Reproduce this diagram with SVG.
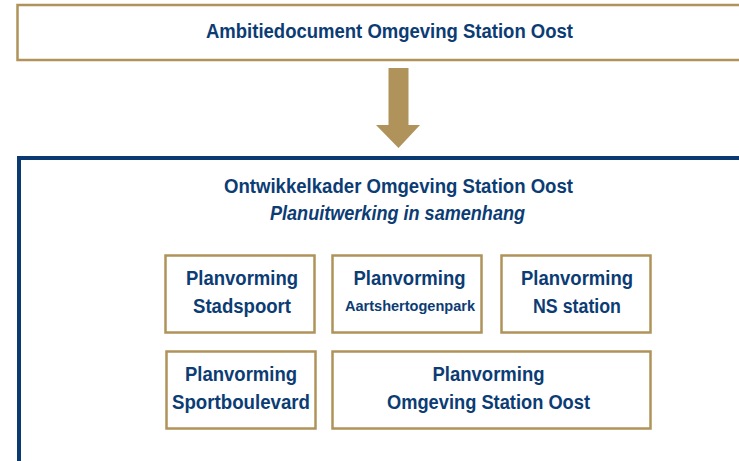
<svg xmlns="http://www.w3.org/2000/svg" width="739" height="461" viewBox="0 0 739 461">
<style>
.gold{fill:#fff;stroke:#b0935a;stroke-width:2.5}
.t{font-family:"Liberation Sans",Arial,sans-serif;font-weight:bold;fill:#0c3c74;text-anchor:middle}
.b{font-size:20px}
</style>
<rect width="739" height="461" fill="#fff"/>
<g id="ambitie">
<rect class="gold" x="17.5" y="5" width="740" height="55"/>
<text class="t" x="389.5" y="38" font-size="19.5" textLength="367" lengthAdjust="spacingAndGlyphs">Ambitiedocument Omgeving Station Oost</text>
</g>
<g id="connectors">
<polygon points="388.5,68 408.5,68 408.5,125 420,125 398.5,148 376,125 388.5,125" fill="#b0935a"/>
</g>
<g id="ontwikkelkader">
<rect x="19" y="158" width="740" height="320" fill="#fff" stroke="#0b3a73" stroke-width="4"/>
<text class="t" x="398.5" y="193" font-size="19.5" textLength="349" lengthAdjust="spacingAndGlyphs">Ontwikkelkader Omgeving Station Oost</text>
<text class="t" x="397.5" y="220" font-size="19.5" font-style="italic" textLength="255" lengthAdjust="spacingAndGlyphs">Planuitwerking in samenhang</text>
</g>
<g id="stadspoort">
<rect class="gold" x="165.5" y="255.5" width="149" height="77"/>
<text class="t b" x="242" y="285" textLength="112" lengthAdjust="spacingAndGlyphs">Planvorming</text>
<text class="t b" x="242" y="313" textLength="98" lengthAdjust="spacingAndGlyphs">Stadspoort</text>
</g>
<g id="aartshertogenpark">
<rect class="gold" x="332.5" y="255.5" width="149" height="77"/>
<text class="t b" x="409.5" y="285" textLength="112" lengthAdjust="spacingAndGlyphs">Planvorming</text>
<text class="t" x="410" y="311" font-size="14" textLength="130" lengthAdjust="spacingAndGlyphs">Aartshertogenpark</text>
</g>
<g id="nsstation">
<rect class="gold" x="501.5" y="255.5" width="149" height="77"/>
<text class="t b" x="577" y="285" textLength="112" lengthAdjust="spacingAndGlyphs">Planvorming</text>
<text class="t b" x="577" y="313" textLength="88" lengthAdjust="spacingAndGlyphs">NS station</text>
</g>
<g id="sportboulevard">
<rect class="gold" x="166.5" y="351.5" width="149" height="77"/>
<text class="t b" x="241" y="381" textLength="112" lengthAdjust="spacingAndGlyphs">Planvorming</text>
<text class="t b" x="241" y="409" textLength="138" lengthAdjust="spacingAndGlyphs">Sportboulevard</text>
</g>
<g id="omgeving">
<rect class="gold" x="332.5" y="351.5" width="318" height="77"/>
<text class="t b" x="488.5" y="381" textLength="112" lengthAdjust="spacingAndGlyphs">Planvorming</text>
<text class="t b" x="488.5" y="409" textLength="203" lengthAdjust="spacingAndGlyphs">Omgeving Station Oost</text>
</g>
</svg>
